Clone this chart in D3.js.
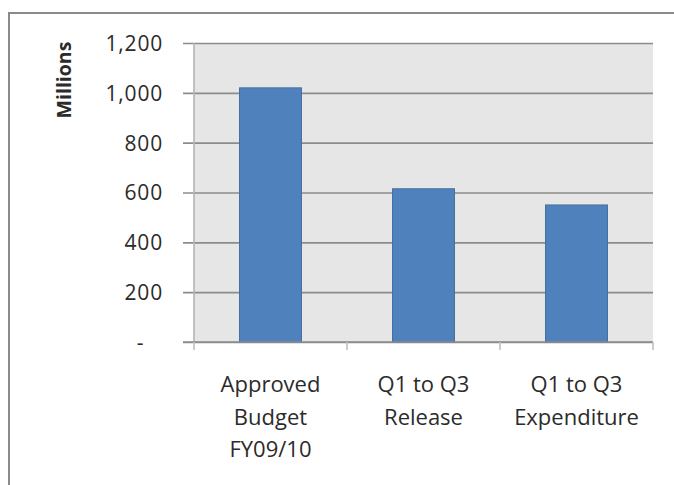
<html>
<head>
<meta charset="utf-8">
<script src="https://d3js.org/d3.v7.min.js"></script>
<style>
body { margin: 0; background: #fff; }
svg { display: block; }
text { font-family: "Open Sans", "Noto Sans", sans-serif; fill: #2b2b2b; }
</style>
</head>
<body>
<svg width="674" height="485"></svg>
<script>

var categories = [["Approved", "Budget", "FY09/10"], ["Q1 to Q3", "Release"], ["Q1 to Q3", "Expenditure"]];
var values = [1020, 615, 550];
var yTicks = [0, 200, 400, 600, 800, 1000, 1200];
var yLabel = "Millions";

var svg = d3.select("svg");

var plotLeft = 194, plotRight = 653, plotTop = 43, plotBottom = 342;

// outer chart border (runs off the right and bottom edges)
svg.append("rect")
    .attr("x", 9).attr("y", 13)
    .attr("width", 720).attr("height", 520)
    .attr("fill", "none")
    .attr("stroke", "#8a8a8a")
    .attr("stroke-width", 2);

var x = d3.scaleBand()
    .domain(d3.range(values.length))
    .range([plotLeft, plotRight])
    .paddingInner(0.595)
    .paddingOuter(0.2975);

var y = d3.scaleLinear()
    .domain([0, 1200])
    .range([plotBottom, plotTop]);

// plot background
svg.append("rect")
    .attr("x", plotLeft).attr("y", plotTop)
    .attr("width", plotRight - plotLeft).attr("height", plotBottom - plotTop)
    .attr("fill", "#e6e6e6");

// gridlines + y labels
var yAxis = svg.append("g")
    .attr("transform", "translate(" + plotRight + ",0)")
    .call(d3.axisLeft(y)
        .tickValues(yTicks)
        .tickSize(plotRight - 183)
        .tickPadding(20)
        .tickFormat(d => d == 0 ? "-\u00a0\u00a0\u00a0" : d3.format(",")(d)));

yAxis.select(".domain").remove();
yAxis.selectAll(".tick line")
    .attr("stroke", "#8c8c8c")
    .attr("stroke-width", 1.6);
yAxis.selectAll(".tick text")
    .style("font-size", "21px")
    .style("letter-spacing", "0.8px")
    .attr("dy", "0.35em")
    .attr("fill", "#222");

// vertical axis line
svg.append("line")
    .attr("x1", plotLeft).attr("x2", plotLeft)
    .attr("y1", plotTop).attr("y2", plotBottom)
    .attr("stroke", "#b4b4b4")
    .attr("stroke-width", 1.6);

// bars
svg.selectAll(".bar")
    .data(values)
    .enter().append("rect")
    .attr("class", "bar")
    .attr("x", (d, i) => x(i))
    .attr("y", d => y(d))
    .attr("width", x.bandwidth())
    .attr("height", d => y(0) - y(d))
    .attr("fill", "#4f81bd")
    .attr("stroke", "#44709f")
    .attr("stroke-width", 1);

// x axis baseline and category ticks
svg.append("line")
    .attr("x1", 183).attr("x2", plotRight)
    .attr("y1", plotBottom).attr("y2", plotBottom)
    .attr("stroke", "#8c8c8c")
    .attr("stroke-width", 1.6);

var bounds = d3.range(values.length + 1).map(i => plotLeft + i * x.step());
svg.selectAll(".xtick")
    .data(bounds)
    .enter().append("line")
    .attr("x1", d => d).attr("x2", d => d)
    .attr("y1", plotBottom).attr("y2", plotBottom + 8)
    .attr("stroke", "#c0c0c0")
    .attr("stroke-width", 1.6);

// category labels
var labels = svg.selectAll(".cat")
    .data(categories)
    .enter().append("text")
    .attr("class", "cat")
    .attr("text-anchor", "middle")
    .style("font-size", "22px");

labels.selectAll("tspan")
    .data((d, i) => d.map(t => ({t: t, i: i})))
    .enter().append("tspan")
    .attr("x", d => x(d.i) + x.bandwidth() / 2)
    .attr("y", (d, j) => 392 + j * 32.5)
    .text(d => d.t);

// y axis title
svg.append("text")
    .attr("transform", "translate(71,80) rotate(-90)")
    .attr("text-anchor", "middle")
    .style("font-size", "19.5px")
    .style("font-weight", "bold")
    .attr("fill", "#000")
    .text(yLabel);

</script>
</body>
</html>
